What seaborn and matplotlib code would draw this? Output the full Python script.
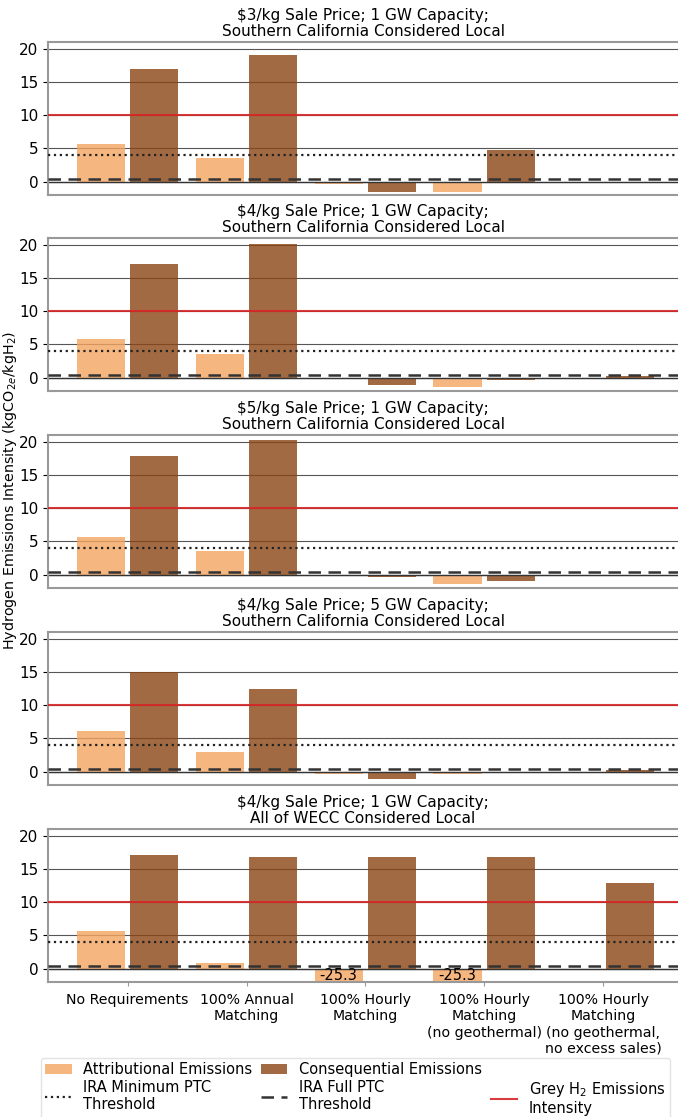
import matplotlib
matplotlib.use("Agg")
import matplotlib.pyplot as plt
from matplotlib.patches import Patch
from matplotlib.lines import Line2D
import seaborn as sns
import pandas as pd

plt.rcParams["font.family"] = ["DejaVu Sans"]

# Scenario categories (x axis)
scenarios = [
    "No Requirements",
    "100% Annual\nMatching",
    "100% Hourly\nMatching",
    "100% Hourly\nMatching\n(no geothermal)",
    "100% Hourly\nMatching\n(no geothermal,\nno excess sales)",
]

# Panel titles
titles = [
    "$3/kg Sale Price; 1 GW Capacity;\nSouthern California Considered Local",
    "$4/kg Sale Price; 1 GW Capacity;\nSouthern California Considered Local",
    "$5/kg Sale Price; 1 GW Capacity;\nSouthern California Considered Local",
    "$4/kg Sale Price; 5 GW Capacity;\nSouthern California Considered Local",
    "$4/kg Sale Price; 1 GW Capacity;\nAll of WECC Considered Local",
]

# Emissions intensity (kgCO2e/kgH2) per panel
attributional_3usd_1gw = [5.7, 3.5, -0.35, -1.5, 0.0]
consequential_3usd_1gw = [17.0, 19.0, -1.6, 4.8, -0.15]
attributional_4usd_1gw = [5.8, 3.6, -0.25, -1.4, 0.0]
consequential_4usd_1gw = [17.1, 20.1, -1.15, -0.4, 0.3]
attributional_5usd_1gw = [5.7, 3.6, -0.1, -1.35, 0.0]
consequential_5usd_1gw = [17.9, 20.3, -0.35, -0.9, 0.0]
attributional_4usd_5gw = [6.1, 3.0, -0.35, -0.3, 0.0]
consequential_4usd_5gw = [15.0, 12.4, -1.05, -0.1, 0.3]
attributional_4usd_wecc = [5.7, 0.9, -25.3, -25.3, 0.0]
consequential_4usd_wecc = [17.1, 16.8, 16.8, 16.8, 12.9]

attributional = [attributional_3usd_1gw, attributional_4usd_1gw, attributional_5usd_1gw,
                 attributional_4usd_5gw, attributional_4usd_wecc]
consequential = [consequential_3usd_1gw, consequential_4usd_1gw, consequential_5usd_1gw,
                 consequential_4usd_5gw, consequential_4usd_wecc]

# Reference thresholds
ira_min_ptc = 4.0
ira_full_ptc = 0.45
grey_h2 = 10.0

types = ["Attributional Emissions", "Consequential Emissions"]
colors = {"Attributional Emissions": "sandybrown", "Consequential Emissions": "saddlebrown"}

W, H = 678, 1117
fig = plt.figure(figsize=(W / 100, H / 100), dpi=100)

ax_left = 48 / W
ax_h = 153 / H
tops = [42, 238, 435, 632, 829]
ymin, ymax = -2.0, 21.0

axes = []
for i, top in enumerate(tops):
    bottom = 1 - (top + 153) / H
    ax = fig.add_axes([ax_left, bottom, 1 - ax_left, ax_h])
    axes.append(ax)
    df = pd.DataFrame({
        "scenario": scenarios * 2,
        "type": [types[0]] * len(scenarios) + [types[1]] * len(scenarios),
        "value": attributional[i] + consequential[i],
    })
    ax.set_axisbelow(True)
    ax.grid(axis="y", color="#444444", lw=0.8, alpha=0.9)
    sns.barplot(data=df, x="scenario", y="value", hue="type", order=scenarios,
                hue_order=types, palette=colors, saturation=1, width=0.9, gap=0.1,
                alpha=0.8, linewidth=0, legend=False, ax=ax)
    ax.axhline(0, color="#333333", lw=1.0, zorder=1)
    ax.axhline(grey_h2, color="tab:red", lw=1.5, alpha=0.9, zorder=3)
    ax.axhline(ira_min_ptc, color="#222222", lw=1.6, ls=":", zorder=3)
    ax.axhline(ira_full_ptc, color="#333333", lw=1.8, ls=(0, (5, 3)), zorder=3)

    # Label bars clipped below the axis
    for j, v in enumerate(attributional[i]):
        if v < ymin:
            ax.text(j - 0.225, -1.0, f"{v:.1f}", ha="center", va="center",
                    fontsize=10.5, zorder=4)

    ax.set_ylim(ymin, ymax)
    ax.set_xlim(-0.67, 4.63)
    ax.set_yticks([0, 5, 10, 15, 20])
    ax.tick_params(axis="y", labelsize=11)
    ax.set_xlabel("")
    ax.set_ylabel("")
    ax.set_title(titles[i], fontsize=11, pad=4, linespacing=1.15)
    for side in ["top", "left", "bottom"]:
        ax.spines[side].set_color("#999999")
        ax.spines[side].set_linewidth(1.5)
    ax.spines["right"].set_visible(False)
    if i < len(tops) - 1:
        ax.set_xticks(range(len(scenarios)))
        ax.set_xticklabels([])
        ax.tick_params(axis="x", length=0)
    else:
        ax.tick_params(axis="x", labelsize=10.2, length=3, pad=5, color="#999999")

fig.text(0.015, 1 - 490 / H,
         "Hydrogen Emissions Intensity (kgCO$_{2e}$/kgH$_2$)",
         rotation=90, ha="center", va="center", fontsize=10.3)

handles = [
    Patch(facecolor="sandybrown", alpha=0.8),
    Line2D([], [], color="#222222", lw=1.6, ls=":"),
    Patch(facecolor="saddlebrown", alpha=0.8),
    Line2D([], [], color="#333333", lw=1.8, ls=(0, (5, 3))),
    Line2D([], [], color="none"),
    Line2D([], [], color="tab:red", lw=1.5, alpha=0.9),
]
labels = [
    "Attributional Emissions",
    "IRA Minimum PTC\nThreshold",
    "Consequential Emissions",
    "IRA Full PTC\nThreshold",
    "",
    "Grey H$_2$ Emissions\nIntensity",
]
fig.legend(handles, labels, ncol=3, loc="upper center",
           bbox_to_anchor=(0.524, 1 - 1058 / H),
           fontsize=10.5, frameon=True, edgecolor="#dddddd", handlelength=1.8,
           handletextpad=0.8, columnspacing=0.6, borderpad=0.3,
           borderaxespad=0.0, labelspacing=0.15)

fig.savefig("out.png", dpi=100)
